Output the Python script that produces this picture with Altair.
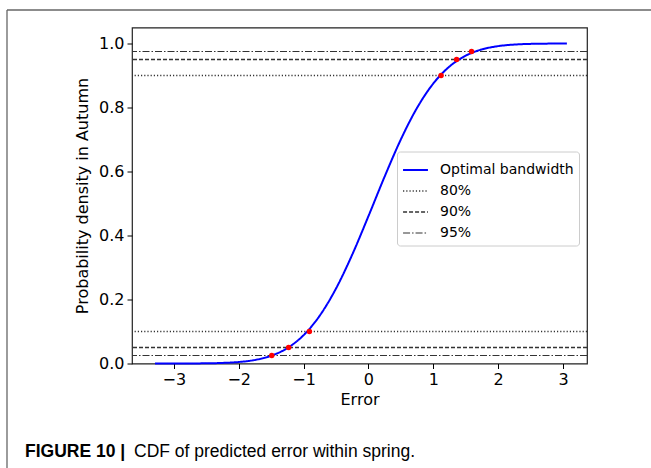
import altair as alt
import pandas as pd

# ---- data ----
err = [-3.29, -3.0, -2.75, -2.5, -2.25, -2.0, -1.75, -1.5, -1.25, -1.0, -0.75, -0.5,
       -0.25, 0.0, 0.25, 0.5, 0.75, 1.0, 1.25, 1.5, 1.75, 2.0, 2.25, 2.5, 2.75, 3.0, 3.06]
cdf = [0.0, 0.0001, 0.0002, 0.0006, 0.0018, 0.0047, 0.0111, 0.0241, 0.0482, 0.0885,
       0.1497, 0.2342, 0.3400, 0.4602, 0.5841, 0.7002, 0.7989, 0.8749, 0.9282, 0.9620,
       0.9816, 0.9918, 0.9967, 0.9988, 0.9996, 0.9999, 1.0]

pt_x = [-1.49, -1.23, -0.91, 1.12, 1.36, 1.59]
pt_y = [0.025, 0.05, 0.1, 0.9, 0.95, 0.975]

levels = [0.1, 0.9, 0.05, 0.95, 0.025, 0.975]
level_names = ["80%", "80%", "90%", "90%", "95%", "95%"]

series_names = ["Optimal bandwidth", "80%", "90%", "95%"]
series_colors = ["#0000ff", "#333333", "#333333", "#333333"]
series_dash = [[1, 0], [1.2, 2], [4, 2], [7, 2, 1.5, 2]]
series_width = [2, 1.2, 1.2, 1.2]

x_ticks = [-3, -2, -1, 0, 1, 2, 3]
y_ticks = [0.0, 0.2, 0.4, 0.6, 0.8, 1.0]

caption_bold = "FIGURE 10 |"
caption_text = "CDF of predicted error within spring."

# ---- chart ----
W, H = 455, 336
PL, PT = 132, 27.5

curve_df = pd.DataFrame({"x": err, "y": cdf, "series": "Optimal bandwidth"})
pts_df = pd.DataFrame({"x": pt_x, "y": pt_y})
lev_df = pd.DataFrame({"y": levels, "series": level_names})

xscale = alt.Scale(domain=[-3.645, 3.37], nice=False, zero=False)
yscale = alt.Scale(domain=[0, 1.05], nice=False, zero=False)

leg = alt.Legend(title=None, orient="none", legendX=265, legendY=124,
                 symbolType="stroke", symbolSize=620, labelFontSize=14,
                 labelFont="DejaVu Sans", labelColor="black", labelOffset=11,
                 padding=5, fillColor="white", strokeColor="#cccccc",
                 cornerRadius=3, rowPadding=0)

color_enc = alt.Color("series:N", scale=alt.Scale(domain=series_names, range=series_colors), legend=leg)
dash_enc = alt.StrokeDash("series:N", scale=alt.Scale(domain=series_names, range=series_dash), legend=leg)
width_enc = alt.StrokeWidth("series:N", scale=alt.Scale(domain=series_names, range=series_width), legend=leg)

xax = alt.Axis(values=x_ticks, format="d", title="Error", grid=False)
yax = alt.Axis(values=y_ticks, format=".1f", title="Probability density in Autumn", grid=False)

curve = alt.Chart(curve_df).mark_line(interpolate="monotone").encode(
    x=alt.X("x:Q", scale=xscale, axis=xax),
    y=alt.Y("y:Q", scale=yscale, axis=yax),
    color=color_enc, strokeDash=dash_enc, strokeWidth=width_enc,
)

rules = alt.Chart(lev_df).mark_rule().encode(
    y=alt.Y("y:Q", scale=yscale),
    color=color_enc, strokeDash=dash_enc, strokeWidth=width_enc,
)

points = alt.Chart(pts_df).mark_circle(size=30, opacity=1, color="red").encode(
    x=alt.X("x:Q", scale=xscale),
    y=alt.Y("y:Q", scale=yscale),
)

one = pd.DataFrame({"a": [0]})
border_top = alt.Chart(one).mark_rule(color="#666666", strokeWidth=1.3).encode(
    x=alt.value(7 - PL), x2=alt.value(651 - PL), y=alt.value(10 - PT))
border_left = alt.Chart(one).mark_rule(color="#666666", strokeWidth=1.3).encode(
    x=alt.value(7 - PL), y=alt.value(10 - PT), y2=alt.value(470 - PT))

cap1 = alt.Chart(pd.DataFrame({"t": [caption_bold]})).mark_text(
    align="left", baseline="alphabetic", font="Liberation Sans", fontSize=17.5,
    fontWeight="bold", color="black").encode(
    text="t:N", x=alt.value(25 - PL), y=alt.value(456.5 - PT))
cap2 = alt.Chart(pd.DataFrame({"t": [caption_text]})).mark_text(
    align="left", baseline="alphabetic", font="Liberation Sans", fontSize=17.5,
    color="black").encode(
    text="t:N", x=alt.value(134 - PL), y=alt.value(456.5 - PT))

chart = alt.layer(rules, curve, points, border_top, border_left, cap1, cap2).properties(
    width=W, height=H,
    autosize=alt.AutoSizeParams(type="none"),
    padding={"left": PL, "top": PT, "right": 651 - PL - W, "bottom": 468 - PT - H},
    background="white",
).configure_view(
    stroke="#222222", strokeWidth=1.2
).configure_axis(
    labelFont="DejaVu Sans", labelFontSize=16, labelColor="black",
    titleFont="DejaVu Sans", titleFontSize=16, titleFontWeight="normal", titleColor="black",
    tickColor="black", tickSize=5, tickWidth=1, domain=False, labelPadding=3,
).configure_axisX(titlePadding=4).configure_axisY(titlePadding=8)

chart.save("out.html", embed_options={"renderer": "svg", "actions": False})
